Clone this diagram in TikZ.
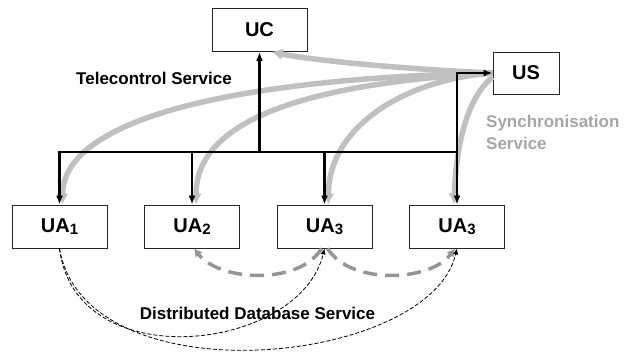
\documentclass[tikz,border=0pt]{standalone}
\usepackage{fontspec}
\setmainfont{Liberation Sans}
\usetikzlibrary{arrows.meta}

\definecolor{syncgray}{HTML}{A6A6A6}
\definecolor{curvegray}{HTML}{C0C0C0}
\definecolor{dashgray}{HTML}{959595}
\newcommand{\unitlabel}[1]{UA\raisebox{-1.5pt}{\fontsize{15}{15}\selectfont #1}}

\begin{document}
\begin{tikzpicture}[x=1pt,y=-1pt,>={Latex[length=9pt,width=7pt]},node distance=132.5pt,
  every node/.style={font=\fontsize{17}{22}\selectfont\bfseries},
  unit/.style={draw=black!85,line width=0.9pt,fill=white,minimum width=95pt,minimum height=43pt,inner sep=0pt,font=\fontsize{20}{24}\selectfont\bfseries},
  control/.style={->,line width=2.4pt},
  sync/.style={-{Latex[length=11pt,width=12pt]},curvegray,line width=5.5pt},
  replica/.style={-{Latex[length=8pt,width=9pt]},dashgray,line width=3.5pt,dash pattern=on 14pt off 8pt},
  query/.style={-{Latex[length=6pt,width=5pt]},line width=0.8pt,dash pattern=on 4pt off 2pt}]

\useasboundingbox (0,0) rectangle (638,352);

\node[unit]   (uc)                 at (259.5,30)  {UC};
\node[unit,minimum width=66pt,minimum height=42pt] (us) at (526,73) {US};
\node[unit]   (ua1)                at (59.5,226.5) {\unitlabel{1}};
\node[unit]   (ua2) [right of=ua1]                 {\unitlabel{2}};
\node[unit]   (ua3) [right of=ua2]                 {\unitlabel{3}};
\node[unit]   (ua4) [right of=ua3]                 {\unitlabel{3}};
\coordinate   (hub)                at (259.5,152);

\node (tc) at (154,78) {Telecontrol Service};
\node[syncgray,align=left,anchor=north west,inner sep=0pt] (ss) at (486,115) {Synchronisation\\Service};
\node (dd) at (257.5,313) {Distributed Database Service};

% synchronisation
\draw[sync] (us.west) .. controls (380,68) and (300,58) .. ([xshift=12pt]uc.south);
\draw[sync] (us.west) .. controls (250,78) and (63,115) .. ([xshift=3pt]ua1.north);
\draw[sync] (us.west) .. controls (300,84) and (196,122) .. ([xshift=4pt]ua2.north);
\draw[sync] (us.west) .. controls (400,80) and (328,130) .. ([xshift=4pt]ua3.north);
\draw[sync] ([yshift=-4pt]us.west) .. controls (465,100) and (456,150) .. ([xshift=-3pt]ua4.north);

% telecontrol
\draw[control] (hub) -- (uc);
\draw[control] (hub) -| (ua1);
\draw[control] (hub) -| (ua2);
\draw[control] (hub) -| (ua3);
\draw[control] (hub) -| (ua4);
\draw[control] (hub) -| (ua4.north |- us) -- (us);

% distributed database
\draw[replica] ([xshift=-3pt]ua3.south) .. controls (300,285) and (220,282) .. ([xshift=2pt]ua2.south);
\draw[replica] ([xshift=3pt]ua3.south) .. controls (350,285) and (430,282) .. ([xshift=-2pt]ua4.south);
\draw[query] (ua1.south) .. controls (75,378) and (300,352) .. (ua3.south);
\draw[query] (ua1.south) .. controls (85,400) and (430,366) .. (ua4.south);

\end{tikzpicture}
\end{document}
